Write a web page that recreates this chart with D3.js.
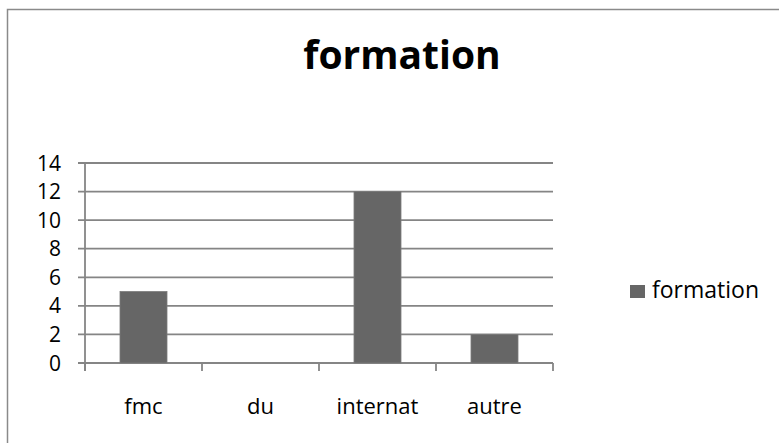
<!DOCTYPE html>
<html>
<head>
<meta charset="utf-8">
<script src="https://cdn.jsdelivr.net/npm/d3@7"></script>
<style>
  html, body { margin: 0; padding: 0; background: #fff; }
  svg { display: block; }
  text { font-family: "Open Sans", "DejaVu Sans", sans-serif; }
</style>
</head>
<body>
<script>
const categories = ["fmc", "du", "internat", "autre"];
const values = [5, 0, 12, 2];
const yTicks = [0, 2, 4, 6, 8, 10, 12, 14];
const seriesName = "formation";
const title = "formation";

const W = 779, H = 443;
const svg = d3.select("body").append("svg").attr("width", W).attr("height", H);

// outer frame
svg.append("rect").attr("x", 7.5).attr("y", 9.5).attr("width", W + 20).attr("height", H + 20)
  .attr("fill", "#fff").attr("stroke", "#8a8a8a").attr("stroke-width", 1.5);

const plot = { left: 85, right: 553, top: 163, bottom: 363 };

const x = d3.scaleBand().domain(categories).range([plot.left, plot.right]).paddingInner(0).paddingOuter(0);
const y = d3.scaleLinear().domain([0, 14]).range([plot.bottom, plot.top]);

// gridlines
svg.append("g").selectAll("line").data(yTicks).join("line")
  .attr("x1", plot.left - 7).attr("x2", plot.right)
  .attr("y1", d => y(d)).attr("y2", d => y(d))
  .attr("stroke", "#858585").attr("stroke-width", 1.8);

// bars
const bw = 47;
svg.append("g").selectAll("rect").data(values).join("rect")
  .attr("x", (d, i) => x(categories[i]) + x.bandwidth() / 2 - bw / 2)
  .attr("width", bw)
  .attr("y", d => y(d))
  .attr("height", d => y(0) - y(d))
  .attr("fill", "#666666")
  .attr("stroke", "#7a7a7a").attr("stroke-width", 0.8);

// y axis line
svg.append("line").attr("x1", plot.left).attr("x2", plot.left)
  .attr("y1", plot.top).attr("y2", plot.bottom + 8)
  .attr("stroke", "#858585").attr("stroke-width", 1.8);

// x axis ticks at band boundaries
const bounds = categories.map(c => x(c)).concat([plot.right]);
svg.append("g").selectAll("line").data(bounds).join("line")
  .attr("x1", d => d).attr("x2", d => d)
  .attr("y1", plot.bottom).attr("y2", plot.bottom + 8)
  .attr("stroke", "#858585").attr("stroke-width", 1.8);

// y labels
svg.append("g").selectAll("text").data(yTicks).join("text")
  .attr("x", 61).attr("y", d => y(d)).attr("dy", "0.36em")
  .attr("text-anchor", "end").attr("font-size", 21).attr("fill", "#000")
  .text(d => d);

// x labels
svg.append("g").selectAll("text").data(categories).join("text")
  .attr("x", d => x(d) + x.bandwidth() / 2).attr("y", 414)
  .attr("text-anchor", "middle").attr("font-size", 22).attr("fill", "#000")
  .text(d => d);

// title
svg.append("text").attr("x", 402).attr("y", 69).attr("text-anchor", "middle")
  .attr("font-size", 39).attr("font-weight", "bold").attr("fill", "#000")
  .text(title);

// legend
svg.append("rect").attr("x", 630).attr("y", 285).attr("width", 15).attr("height", 13)
  .attr("fill", "#666666");
svg.append("text").attr("x", 652).attr("y", 298).attr("font-size", 23).attr("fill", "#000")
  .text(seriesName);
</script>
</body>
</html>
